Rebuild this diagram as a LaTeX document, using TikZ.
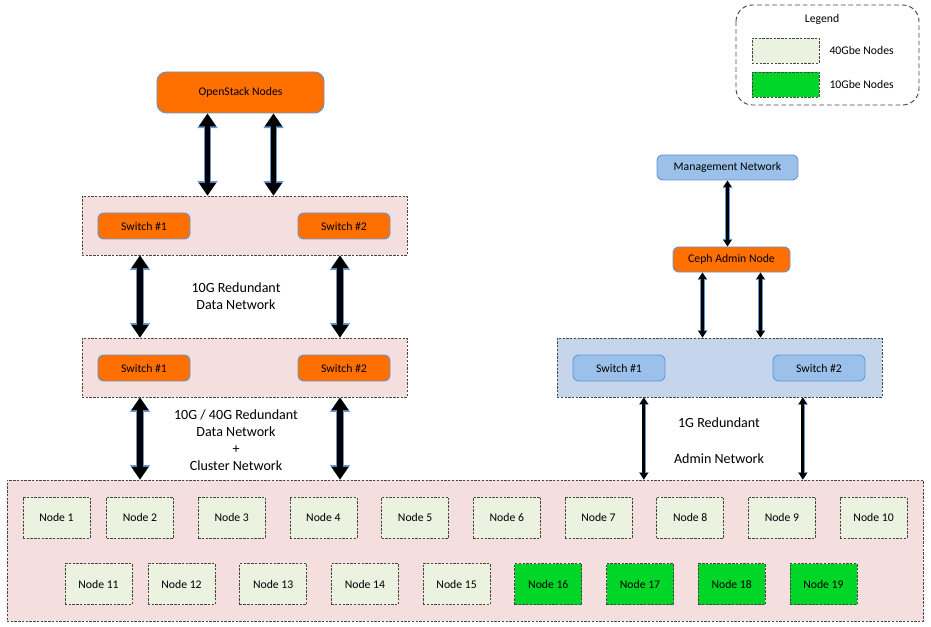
\documentclass[tikz,border=0pt]{standalone}
\usepackage{fontspec}
\setmainfont{Carlito}
\usetikzlibrary{arrows.meta, positioning}
\definecolor{ceph_orange}{RGB}{255,112,0}
\definecolor{edge_blue}{RGB}{100,150,210}
\definecolor{group_pink}{RGB}{245,223,222}
\definecolor{group_blue}{RGB}{197,214,236}
\definecolor{switch_blue}{RGB}{155,192,234}
\definecolor{node_light}{RGB}{235,242,224}
\definecolor{node_green}{RGB}{0,214,40}
\definecolor{dash_gray}{RGB}{70,70,70}
\newcommand\boxtextsize{\fontsize{10}{12}\selectfont}
\newcommand\labeltextsize{\fontsize{12}{14.6}\selectfont}
\tikzset{
	roundbox/.style={draw=edge_blue, line width=0.8pt, rounded corners=5pt, inner sep=0pt, font=\boxtextsize},
	switchbox/.style={roundbox, fill=ceph_orange, minimum width=2.76cm, minimum height=0.78cm},
	groupbox/.style={draw=dash_gray, dash pattern=on 2pt off 1.2pt, line width=0.6pt, fill=group_pink, inner sep=0pt},
	nodebox/.style={groupbox, fill=node_light, minimum width=2.01cm, minimum height=1.23cm, font=\boxtextsize},
	fatarrow/.style={line width=5pt, {Triangle[length=11pt,width=14pt]}-{Triangle[length=11pt,width=14pt]},
		preaction={draw=edge_blue, line width=6.5pt, {Triangle[length=12.5pt,width=16.5pt]}-{Triangle[length=12.5pt,width=16.5pt]}}},
	thinarrow/.style={line width=2.6pt, {Triangle[length=5.5pt,width=6.5pt]}-{Triangle[length=5.5pt,width=6.5pt]},
		preaction={draw=edge_blue, line width=3.6pt, {Triangle[length=6.5pt,width=8pt]}-{Triangle[length=6.5pt,width=8pt]}}}
}

\begin{document}
\begin{tikzpicture}[x=0.03cm,y=-0.03cm,line join=round]
	\useasboundingbox (0,0) rectangle (931,627);
	% legend
	\draw[draw=dash_gray, dash pattern=on 4pt off 2.5pt, line width=0.8pt, rounded corners=14pt] (736,5) rectangle (919,105);
	\node[font=\boxtextsize] (legend) at (822,19) {Legend};
	\node[nodebox, minimum height=0.75cm] (key40) at (785.5,50.5) {};
	\node[nodebox, fill=node_green, minimum height=0.75cm] (key10) at (785.5,84.5) {};
	\node[font=\boxtextsize, right=0.18cm of key40] (key40txt) {40Gbe Nodes};
	\node[font=\boxtextsize, right=0.18cm of key10] (key10txt) {10Gbe Nodes};
	% groups
	\node[groupbox, minimum width=9.75cm, minimum height=1.77cm] (dataA) at (244.5,225.5) {};
	\node[groupbox, minimum width=9.75cm, minimum height=1.77cm] (dataB) at (244.5,367.5) {};
	\node[groupbox, fill=group_blue, minimum width=9.75cm, minimum height=1.77cm] (adminsw) at (719.5,367.5) {};
	\node[groupbox, minimum width=27.48cm, minimum height=4.23cm] (cluster) at (465,550.5) {};
	% boxes
	\node[roundbox, fill=ceph_orange, rounded corners=8pt, minimum width=5.01cm, minimum height=1.23cm] (os) at (240.5,92.5) {OpenStack Nodes};
	\node[switchbox] (swA1) at (144,226) {Switch \#1};
	\node[switchbox] (swA2) at (344,226) {Switch \#2};
	\node[switchbox] (swB1) at (144,368) {Switch \#1};
	\node[switchbox] (swB2) at (344,368) {Switch \#2};
	\node[switchbox, fill=switch_blue] (swC1) at (619,368) {Switch \#1};
	\node[switchbox, fill=switch_blue] (swC2) at (819,368) {Switch \#2};
	\node[roundbox, fill=switch_blue, minimum width=4.23cm, minimum height=0.75cm] (mgmt) at (727.5,167.5) {Management Network};
	\node[roundbox, fill=ceph_orange, minimum width=3.51cm, minimum height=0.75cm] (ceph) at (731.5,259.5) {Ceph Admin Node};
	% cluster nodes
	\foreach\i in {1,...,10}
	{
		\pgfmathsetmacro\xx{\i==1 ? 56.5 : 140+91.7*(\i-2)}
		\node[nodebox] (n\i) at (\xx,517.5) {Node \i};
	}
	\foreach\i in {11,...,19}
	{
		\pgfmathsetmacro\xx{\i==11 ? 98.5 : 181.5+91.7*(\i-12)}
		\ifnum\i>15
			\node[nodebox, fill=node_green] (n\i) at (\xx,584) {Node \i};
		\else
			\node[nodebox] (n\i) at (\xx,584) {Node \i};
		\fi
	}
	% labels
	\node[font=\labeltextsize, align=center] (lblA) at (236,296.5) {10G Redundant\\Data Network};
	\node[font=\labeltextsize, align=center] (lblB) at (236,440.5) {10G / 40G Redundant\\Data Network\\+\\Cluster Network};
	\node[font=\labeltextsize] (lblC) at (719,423) {1G Redundant};
	\node[font=\labeltextsize] (lblD) at (719,459) {Admin Network};
	% connectors
	\draw[fatarrow] ([xshift=-0.99cm]os.south) -- ([xshift=-0.99cm]os.south |- dataA.north);
	\draw[fatarrow] ([xshift=0.99cm]os.south) -- ([xshift=0.99cm]os.south |- dataA.north);
	\draw[fatarrow] ([xshift=-0.12cm]swA1.south |- dataA.south) -- ([xshift=-0.12cm]swA1.south |- dataB.north);
	\draw[fatarrow] ([xshift=-0.12cm]swA2.south |- dataA.south) -- ([xshift=-0.12cm]swA2.south |- dataB.north);
	\draw[fatarrow] ([xshift=-0.12cm]swB1.south |- dataB.south) -- ([xshift=-0.12cm]swB1.south |- cluster.north);
	\draw[fatarrow] ([xshift=-0.12cm]swB2.south |- dataB.south) -- ([xshift=-0.12cm]swB2.south |- cluster.north);
	\draw[thinarrow] (mgmt.south) -- (mgmt.south |- ceph.north);
	\draw[thinarrow] ([xshift=-0.87cm]ceph.south) -- ([xshift=-0.87cm]ceph.south |- adminsw.north);
	\draw[thinarrow] ([xshift=0.87cm]ceph.south) -- ([xshift=0.87cm]ceph.south |- adminsw.north);
	\draw[thinarrow] ([xshift=-2.27cm]adminsw.south) -- ([xshift=-2.27cm]adminsw.south |- cluster.north);
	\draw[thinarrow] ([xshift=2.5cm]adminsw.south) -- ([xshift=2.5cm]adminsw.south |- cluster.north);
\end{tikzpicture}
\end{document}
